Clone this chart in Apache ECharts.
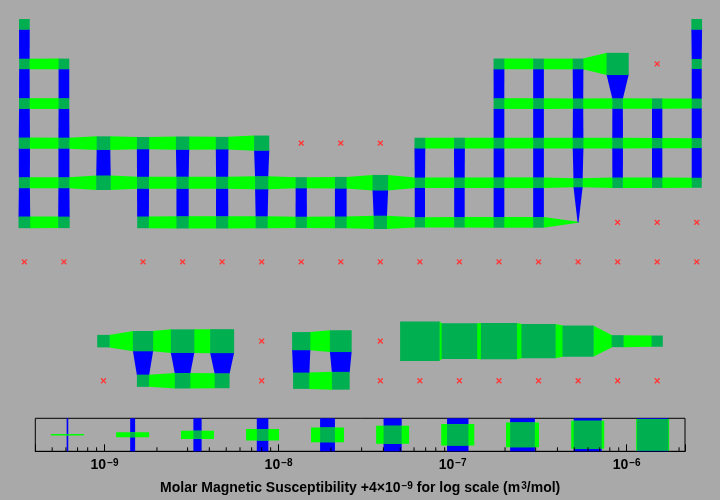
<!DOCTYPE html>
<html>
<head>
<meta charset="utf-8">
<script src="https://cdn.jsdelivr.net/npm/echarts@6/dist/echarts.min.js"></script>
<style>
html,body{margin:0;padding:0;background:#a9a9a9;}
#c{width:720px;height:500px;}
</style>
</head>
<body>
<div id="c"></div>
<script>
// ---- DATA ----
// Element symbol, periodic-table column, display row (9 = lanthanides, 10 = actinides)
const symbols = [
  'H','He',
  'Li','Be','B','C','N','O','F','Ne',
  'Na','Mg','Al','Si','P','S','Cl','Ar',
  'K','Ca','Sc','Ti','V','Cr','Mn','Fe','Co','Ni','Cu','Zn','Ga','Ge','As','Se','Br','Kr',
  'Rb','Sr','Y','Zr','Nb','Mo','Tc','Ru','Rh','Pd','Ag','Cd','In','Sn','Sb','Te','I','Xe',
  'Cs','Ba','Hf','Ta','W','Re','Os','Ir','Pt','Au','Hg','Tl','Pb','Bi','Po','At','Rn',
  'Fr','Ra','Rf','Db','Sg','Bh','Hs','Mt','Ds','Rg','Cn','Nh','Fl','Mc','Lv','Ts','Og',
  'La','Ce','Pr','Nd','Pm','Sm','Eu','Gd','Tb','Dy','Ho','Er','Tm','Yb','Lu',
  'Ac','Th','Pa','U','Np','Pu','Am','Cm','Bk','Cf','Es','Fm','Md','No','Lr'
];
const columns = [
  1,18,
  1,2,13,14,15,16,17,18,
  1,2,13,14,15,16,17,18,
  1,2,3,4,5,6,7,8,9,10,11,12,13,14,15,16,17,18,
  1,2,3,4,5,6,7,8,9,10,11,12,13,14,15,16,17,18,
  1,2,4,5,6,7,8,9,10,11,12,13,14,15,16,17,18,
  1,2,4,5,6,7,8,9,10,11,12,13,14,15,16,17,18,
  3,4,5,6,7,8,9,10,11,12,13,14,15,16,17,
  3,4,5,6,7,8,9,10,11,12,13,14,15,16,17
];
const rows = [
  1,1,
  2,2,2,2,2,2,2,2,
  3,3,3,3,3,3,3,3,
  4,4,4,4,4,4,4,4,4,4,4,4,4,4,4,4,4,4,
  5,5,5,5,5,5,5,5,5,5,5,5,5,5,5,5,5,5,
  6,6,6,6,6,6,6,6,6,6,6,6,6,6,6,6,6,
  7,7,7,7,7,7,7,7,7,7,7,7,7,7,7,7,7,
  9,9,9,9,9,9,9,9,9,9,9,9,9,9,9,
  10,10,10,10,10,10,10,10,10,10,10,10,10,10,10
];
// Molar magnetic susceptibility, in units of 1e-9 m^3/mol (null = no value, drawn as a red cross)
const chi = [
  0.09,0.09,
  -0.08,0.09,0.18,0.09,0.09,45.8,null,-0.49,
  0.09,0.09,0.09,0.09,-0.25,-0.08,-0.25,-0.49,
  0.56,0.37,3.69,1.79,3.20,2.18,6.88,null,null,null,0.18,0.28,0.09,0.09,0.09,0.09,-0.25,-0.49,
  0.37,0.37,5.35,1.43,1.67,1.55,3.05,0.56,1.09,7.87,-0.25,-0.08,0.09,0.09,-1.05,-0.08,-0.25,-0.49,
  1.09,0.87,1.09,1.79,1.79,1.43,0.66,1.09,3.20,-0.25,-0.08,0.09,0.09,-3.50,null,null,null,
  null,null,null,null,null,null,null,null,null,null,null,null,null,null,null,null,null,
  2.05,29.0,63.5,69.7,null,16.9,41.7,null,2159,913,1041,672,348,1.43,0.56,
  null,1.67,7.61,6.20,null,9.82,15.1,null,null,null,null,null,null,null,null
];
const UNIT = 1e-9;           // chi unit (m^3/mol)
const OFFSET = 4;            // +4e-9 shift for the log scale
// Legend sample values (already shifted, m^3/mol)
const legendValues = [6.12e-10, 1.45e-9, 3.42e-9, 8.09e-9, 1.91e-8, 4.52e-8, 1.07e-7, 2.52e-7, 5.97e-7, 1.41e-6];
// Minor tick values of the log axis
const minorTicks = [5e-10,6e-10,7e-10,8e-10,9e-10,
  2e-9,3e-9,4e-9,5e-9,6e-9,7e-9,8e-9,9e-9,
  2e-8,3e-8,4e-8,5e-8,6e-8,7e-8,8e-8,9e-8,
  2e-7,3e-7,4e-7,5e-7,6e-7,7e-7,8e-7,9e-7,
  2e-6];

// ---- CHART ----
const FONT = '"Liberation Sans", Arial, Helvetica, sans-serif';
const GREEN = '#00ff00', BLUE = '#0000ff', DARK = '#00b050', CROSS = '#ff3838';
const validChi = chi.filter(v => v !== null);
const X_MIN = OFFSET * UNIT / 10;
const X_MAX = (Math.max.apply(null, validChi) + OFFSET) * UNIT;
const shift = v => (v + OFFSET) * UNIT;
const frac = vs => (Math.log10(vs) - Math.log10(X_MIN)) / (Math.log10(X_MAX) - Math.log10(X_MIN));

const present = {};
symbols.forEach((s, i) => { if (chi[i] !== null) present[columns[i] + ',' + rows[i]] = chi[i]; });
const cellData = [], missingData = [], linkH = [], linkV = [];
symbols.forEach((s, i) => {
  const c = columns[i], r = rows[i], v = chi[i];
  if (v === null) { missingData.push({ name: s, value: [c, r] }); return; }
  cellData.push({ name: s, value: [c, r, v] });
  const right = present[(c + 1) + ',' + r];
  if (right !== undefined) linkH.push({ name: s, value: [c, r, c + 1, r, v, right] });
  const down = present[c + ',' + (r + 1)];
  if (down !== undefined) linkV.push({ name: s, value: [c, r, c, r + 1, v, down] });
});

function linkRenderer(horizontal) {
  return function (params, api) {
    const p1 = api.coord([api.value(0), api.value(1)]);
    const p2 = api.coord([api.value(2), api.value(3)]);
    const cell = api.size([1, 1])[0];
    const s1 = cell * frac(shift(api.value(4)));
    const s2 = cell * frac(shift(api.value(5)));
    const e1 = Math.min(0.5, s1 / 2), e2 = Math.min(0.5, s2 / 2);
    let pts;
    if (horizontal) {
      const xa = p1[0] + s1 / 2 - e1, xb = p2[0] - s2 / 2 + e2;
      pts = [[xa, p1[1] - s1 / 2], [xb, p2[1] - s2 / 2], [xb, p2[1] + s2 / 2], [xa, p1[1] + s1 / 2]];
    } else {
      const ya = p1[1] + s1 / 2 - e1, yb = p2[1] - s2 / 2 + e2;
      pts = [[p1[0] - s1 / 2, ya], [p1[0] + s1 / 2, ya], [p2[0] + s2 / 2, yb], [p2[0] - s2 / 2, yb]];
    }
    return { type: 'polygon', shape: { points: pts }, style: { fill: horizontal ? GREEN : BLUE } };
  };
}

const supStyle = { fontSize: 10, fontWeight: 'bold', fontFamily: FONT, color: '#000', verticalAlign: 'top', padding: [0, 0, 0, 1] };
const baseStyle = { fontSize: 14, fontWeight: 'bold', fontFamily: FONT, color: '#000' };

const chart = echarts.init(document.getElementById('c'), null, { renderer: 'canvas' });
chart.setOption({
  backgroundColor: '#a9a9a9',
  animation: false,
  grid: [
    { left: 4.6, top: 4.55, width: 711.9, height: 396, show: false },
    { left: 35.3, top: 418.3, width: 649.7, height: 33, show: true, borderColor: '#000', borderWidth: 1, backgroundColor: 'transparent' }
  ],
  xAxis: [
    { gridIndex: 0, type: 'value', min: 0.5, max: 18.5, show: false },
    {
      gridIndex: 1, type: 'log', logBase: 10, min: X_MIN, max: X_MAX,
      axisLine: { show: true, lineStyle: { color: '#000', width: 1 } },
      axisTick: { show: true, inside: true, length: 7, lineStyle: { color: '#000', width: 1 } },
      splitLine: { show: false },
      axisLabel: {
        margin: 7,
        formatter: function (v) {
          const e = Math.log10(v), r = Math.round(e);
          if (Math.abs(e - r) > 1e-6) return '';
          return '{b|10}{s|\u2212' + Math.abs(r) + '}';
        },
        rich: { b: baseStyle, s: supStyle }
      },
      name: '{t|Molar Magnetic Susceptibility +4\u00d710}{s|\u22129}{t| for log scale (m}{s|3}{t|/mol)}',
      nameLocation: 'middle',
      nameGap: 30,
      nameTextStyle: { rich: { t: baseStyle, s: supStyle } }
    }
  ],
  yAxis: [
    { gridIndex: 0, type: 'value', min: 0.5, max: 10.5, inverse: true, show: false },
    { gridIndex: 1, type: 'value', min: 0, max: 1, show: false }
  ],
  series: [
    { type: 'custom', name: 'row links', xAxisIndex: 0, yAxisIndex: 0, silent: true, renderItem: linkRenderer(true), data: linkH },
    { type: 'custom', name: 'column links', xAxisIndex: 0, yAxisIndex: 0, silent: true, renderItem: linkRenderer(false), data: linkV },
    {
      type: 'custom', name: 'elements', xAxisIndex: 0, yAxisIndex: 0, silent: true, data: cellData,
      renderItem: function (params, api) {
        const c = api.coord([api.value(0), api.value(1)]);
        const s = api.size([1, 1])[0] * frac(shift(api.value(2)));
        return { type: 'rect', shape: { x: c[0] - s / 2, y: c[1] - s / 2, width: s, height: s }, style: { fill: DARK } };
      }
    },
    {
      type: 'custom', name: 'no data', xAxisIndex: 0, yAxisIndex: 0, silent: true, data: missingData,
      renderItem: function (params, api) {
        const c = api.coord([api.value(0), api.value(1)]);
        const h = 2.4;
        const st = { stroke: CROSS, lineWidth: 1.4 };
        return { type: 'group', children: [
          { type: 'line', shape: { x1: c[0] - h, y1: c[1] - h, x2: c[0] + h, y2: c[1] + h }, style: st },
          { type: 'line', shape: { x1: c[0] - h, y1: c[1] + h, x2: c[0] + h, y2: c[1] - h }, style: st }
        ] };
      }
    },
    {
      type: 'custom', name: 'legend', xAxisIndex: 1, yAxisIndex: 1, silent: true,
      data: legendValues.map(v => [v, 0.5]),
      renderItem: function (params, api) {
        const v = api.value(0);
        const c = api.coord([v, 0.5]);
        const x0 = api.coord([X_MIN, 0.5])[0], x1 = api.coord([X_MAX, 0.5])[0];
        const cell = api.coord([v, 0])[1] - api.coord([v, 1])[1];
        const s = cell * (c[0] - x0) / (x1 - x0);
        return { type: 'group', children: [
          { type: 'rect', shape: { x: c[0] - s / 2, y: c[1] - cell / 2, width: s, height: cell }, style: { fill: BLUE } },
          { type: 'rect', shape: { x: c[0] - cell / 2, y: c[1] - s / 2, width: cell, height: s }, style: { fill: GREEN } },
          { type: 'rect', shape: { x: c[0] - s / 2, y: c[1] - s / 2, width: s, height: s }, style: { fill: DARK } }
        ] };
      }
    },
    {
      type: 'custom', name: 'minor ticks', xAxisIndex: 1, yAxisIndex: 1, silent: true,
      data: minorTicks.map(v => [v, 0]),
      renderItem: function (params, api) {
        const p = api.coord([api.value(0), 0]);
        return { type: 'line', shape: { x1: p[0], y1: p[1], x2: p[0], y2: p[1] - 4 }, style: { stroke: '#000', lineWidth: 1 } };
      }
    }
  ]
});
</script>
</body>
</html>
